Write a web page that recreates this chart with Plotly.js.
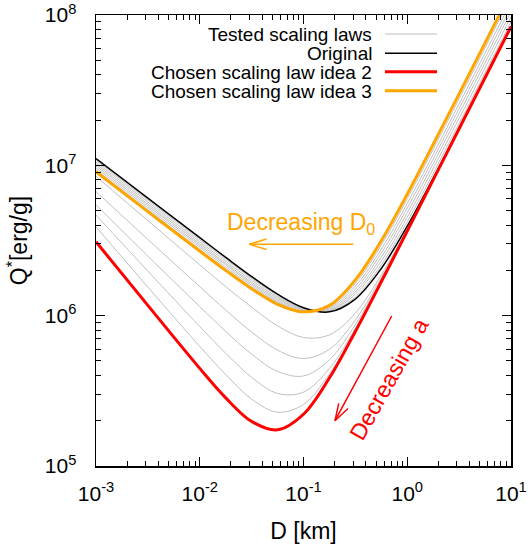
<!DOCTYPE html>
<html>
<head>
<meta charset="utf-8">
<script src="https://cdn.plot.ly/plotly-3.0.1.min.js"></script>
<style>html,body{margin:0;padding:0;background:#fff;}#chart{width:528px;height:545px;}</style>
</head>
<body>
<div id="chart"></div>
<script>
// Diameter D [km]
const D = [0.001, 0.00316, 0.01, 0.0178, 0.0316, 0.0562, 0.1, 0.178, 0.316, 0.562, 1, 3.16, 10];

// Q* [erg/g]
const Q_original = [1.11e7, 6.05e6, 3.30e6, 2.44e6, 1.82e6, 1.39e6, 1.13e6, 1.06e6, 1.29e6, 2.06e6, 3.94e6, 1.76e7, 8.36e7];
const Q_idea2 = [3.10e6, 1.17e6, 4.46e5, 2.84e5, 1.98e5, 1.74e5, 2.21e5, 3.86e5, 7.85e5, 1.68e6, 3.66e6, 1.75e7, 8.36e7];
const Q_idea3 = [9.06e6, 4.92e6, 2.69e6, 2.00e6, 1.51e6, 1.19e6, 1.06e6, 1.17e6, 1.73e6, 3.15e6, 6.44e6, 2.99e7, 1.42e8];

// tested laws, decreasing a
const Q_a1 = [8.45e6, 4.29e6, 2.18e6, 1.56e6, 1.14e6, 8.56e5, 7.16e5, 7.46e5, 1.04e6, 1.87e6, 3.79e6, 1.75e7, 8.36e7];
const Q_a2 = [6.68e6, 3.22e6, 1.56e6, 1.09e6, 7.79e5, 5.90e5, 5.19e5, 5.98e5, 9.35e5, 1.79e6, 3.73e6, 1.75e7, 8.36e7];
const Q_a3 = [5.46e6, 2.49e6, 1.15e6, 7.86e5, 5.55e5, 4.26e5, 3.97e5, 5.09e5, 8.71e5, 1.74e6, 3.70e6, 1.75e7, 8.36e7];
const Q_a4 = [4.67e6, 1.98e6, 8.47e5, 5.62e5, 3.89e5, 3.04e5, 3.10e5, 4.46e5, 8.24e5, 1.71e6, 3.67e6, 1.75e7, 8.36e7];
const Q_a5 = [3.90e6, 1.55e6, 6.25e5, 4.06e5, 2.79e5, 2.28e5, 2.57e5, 4.10e5, 8.02e5, 1.69e6, 3.66e6, 1.75e7, 8.36e7];

// tested laws, decreasing D0
const Q_d1 = [1.08e7, 5.87e6, 3.20e6, 2.37e6, 1.77e6, 1.36e6, 1.11e6, 1.07e6, 1.33e6, 2.18e6, 4.22e6, 1.90e7, 9.02e7];
const Q_d2 = [1.05e7, 5.70e6, 3.10e6, 2.30e6, 1.72e6, 1.33e6, 1.10e6, 1.08e6, 1.39e6, 2.31e6, 4.52e6, 2.05e7, 9.73e7];
const Q_d3 = [1.02e7, 5.53e6, 3.01e6, 2.23e6, 1.67e6, 1.30e6, 1.09e6, 1.09e6, 1.44e6, 2.45e6, 4.85e6, 2.21e7, 1.05e8];
const Q_d4 = [9.91e6, 5.38e6, 2.93e6, 2.18e6, 1.63e6, 1.27e6, 1.08e6, 1.11e6, 1.50e6, 2.61e6, 5.20e6, 2.38e7, 1.13e8];
const Q_d5 = [9.62e6, 5.22e6, 2.85e6, 2.11e6, 1.59e6, 1.24e6, 1.07e6, 1.13e6, 1.57e6, 2.77e6, 5.58e6, 2.56e7, 1.22e8];
const Q_d6 = [9.33e6, 5.07e6, 2.76e6, 2.05e6, 1.55e6, 1.22e6, 1.06e6, 1.15e6, 1.64e6, 2.95e6, 6.00e6, 2.77e7, 1.32e8];

const xTickVals = [0.001, 0.01, 0.1, 1, 10];
const xTickText = ['10<sup>-3</sup>', '10<sup>-2</sup>', '10<sup>-1</sup>', '10<sup>0</sup>', '10<sup>1</sup>'];
const yTickVals = [1e5, 1e6, 1e7, 1e8];
const yTickText = ['10<sup>5</sup>', '10<sup>6</sup>', '10<sup>7</sup>', '10<sup>8</sup>'];

const legendLabels = ['Tested scaling laws', 'Original', 'Chosen scaling law idea 2', 'Chosen scaling law idea 3'];

const GRAY = '#c0c0c0', BLACK = '#000000', RED = '#ff0000', ORANGE = '#ffa500';
const FONT = '"Liberation Sans", Arial, Helvetica, sans-serif';

function minorVals(lo, hi) {
  const v = [];
  for (let e = lo; e < hi; e++) for (let m = 2; m <= 9; m++) v.push(m * Math.pow(10, e));
  return v;
}

const grayA = [Q_a1, Q_a2, Q_a3, Q_a4, Q_a5];
const grayD = [Q_d1, Q_d2, Q_d3, Q_d4, Q_d5, Q_d6];
const traces = [];
grayA.concat(grayD).forEach((q) => {
  traces.push({x: D, y: q, type: 'scatter', mode: 'lines', line: {color: GRAY, width: 1, shape: 'spline'},
    name: legendLabels[0], showlegend: false, hoverinfo: 'skip'});
});
traces.push({x: D, y: Q_original, type: 'scatter', mode: 'lines', line: {color: BLACK, width: 1.5, shape: 'spline'}, name: legendLabels[1], showlegend: false});
traces.push({x: D, y: Q_idea3, type: 'scatter', mode: 'lines', line: {color: ORANGE, width: 3, shape: 'spline'}, name: legendLabels[3], showlegend: false});
traces.push({x: D, y: Q_idea2, type: 'scatter', mode: 'lines', line: {color: RED, width: 3, shape: 'spline'}, name: legendLabels[2], showlegend: false});

// pixel -> paper helpers (plot area 96..511 x 15..466)
const L = 96, R = 511, T = 15, B = 466;
const px = X => (X - L) / (R - L);
const py = Y => (B - Y) / (B - T);

const shapes = [];
const annotations = [];
function seg(x0, y0, x1, y1, color, width) {
  shapes.push({type: 'line', xref: 'paper', yref: 'paper', x0: px(x0), y0: py(y0), x1: px(x1), y1: py(y1), line: {color: color, width: width}});
}
// legend
const legColors = [GRAY, BLACK, RED, ORANGE];
const legWidths = [1, 1.5, 3, 3];
const legY = [34, 53.3, 71.7, 90.7];
legendLabels.forEach((t, i) => {
  seg(385, legY[i], 437, legY[i], legColors[i], legWidths[i]);
  annotations.push({xref: 'paper', yref: 'paper', x: px(374), y: py(legY[i] + 0.5), xanchor: 'right', yanchor: 'middle',
    text: t, showarrow: false, font: {family: FONT, size: 19, color: '#000'}});
});
// Decreasing D0 arrow
seg(353.3, 244.3, 249.3, 244.3, ORANGE, 1.5);
seg(249.3, 244.3, 266.5, 239, ORANGE, 1.5);
seg(249.3, 244.3, 266.5, 249.5, ORANGE, 1.5);
annotations.push({xref: 'paper', yref: 'paper', x: px(301), y: py(224), xanchor: 'center', yanchor: 'middle',
  text: 'Decreasing D<sub>0</sub>', showarrow: false, font: {family: FONT, size: 23, color: ORANGE}});
// Decreasing a arrow
seg(391.7, 316, 335, 420.7, RED, 1.5);
seg(335, 420.7, 338.7, 403.3, RED, 1.5);
seg(335, 420.7, 348, 408.5, RED, 1.5);
annotations.push({xref: 'paper', yref: 'paper', x: px(389), y: py(379), xanchor: 'center', yanchor: 'middle',
  text: 'Decreasing a', textangle: -60.5, showarrow: false, font: {family: FONT, size: 23, color: RED}});

const axisCommon = {
  showgrid: false, zeroline: false, showline: true, linecolor: '#000', linewidth: 1.5, mirror: 'allticks',
  ticks: 'inside', ticklen: 9, tickwidth: 1, tickcolor: '#000', tickmode: 'array',
  tickfont: {family: FONT, size: 21, color: '#000'}
};

const layout = {
  width: 528, height: 545,
  margin: {l: L, r: 528 - R, t: T, b: 545 - B, pad: 0},
  paper_bgcolor: '#fff', plot_bgcolor: '#fff',
  showlegend: false,
  font: {family: FONT},
  xaxis: Object.assign({}, axisCommon, {
    type: 'log', range: [-3, 1], tickvals: xTickVals, ticktext: xTickText, ticklabelstandoff: 8,
    minor: {tickmode: 'array', tickvals: minorVals(-3, 1), ticks: 'inside', ticklen: 5, tickwidth: 1, tickcolor: '#000', showgrid: false},
    title: {text: 'D [km]', font: {family: FONT, size: 23, color: '#000'}, standoff: 19}
  }),
  yaxis: Object.assign({}, axisCommon, {
    type: 'log', range: [5, 8], tickvals: yTickVals, ticktext: yTickText, ticklabelstandoff: 14,
    minor: {tickmode: 'array', tickvals: minorVals(5, 8), ticks: 'inside', ticklen: 5, tickwidth: 1, tickcolor: '#000', showgrid: false},
    title: {text: 'Q<sup>*</sup>[erg/g]', font: {family: FONT, size: 23, color: '#000'}, standoff: 10}
  }),
  shapes: shapes,
  annotations: annotations
};

Plotly.newPlot('chart', traces, layout, {staticPlot: true, displayModeBar: false});
</script>
</body>
</html>
